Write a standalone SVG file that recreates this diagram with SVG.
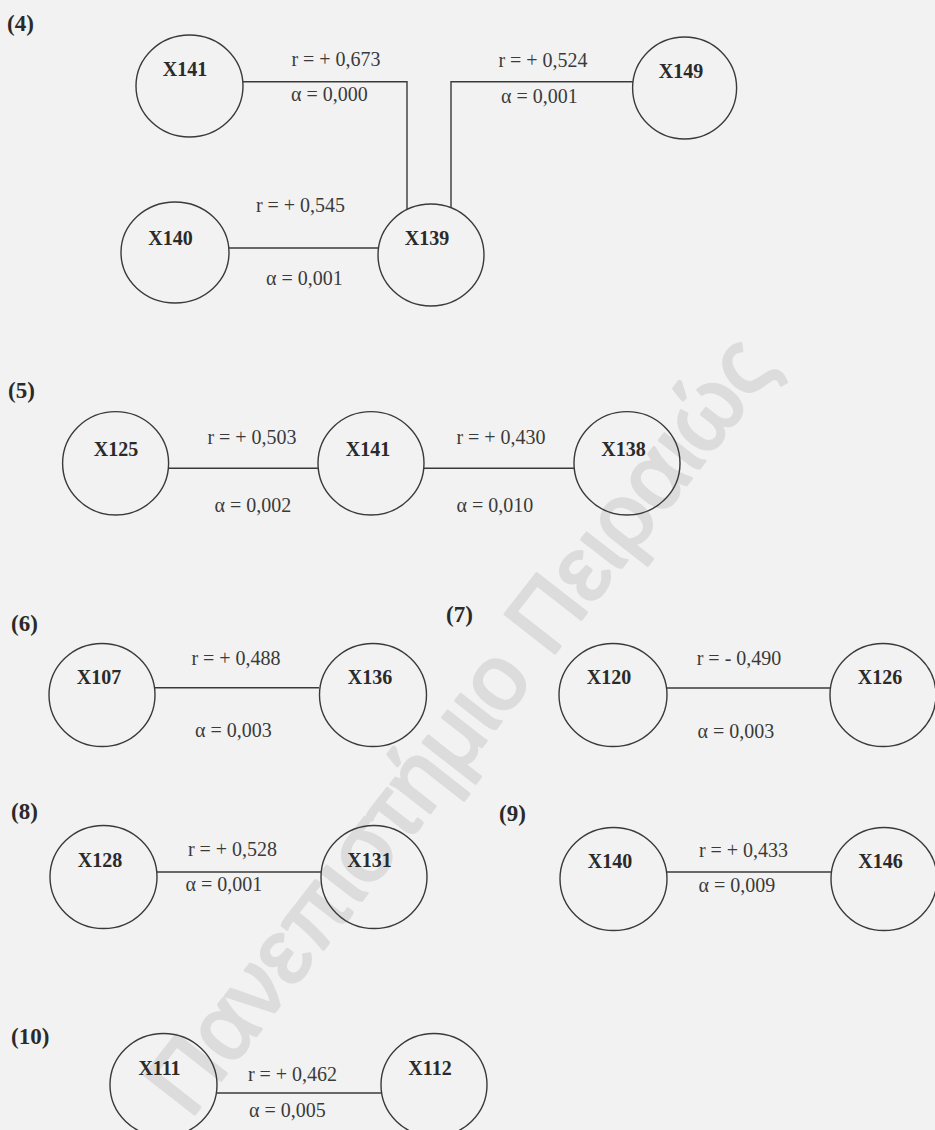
<svg xmlns="http://www.w3.org/2000/svg" width="935" height="1130" viewBox="0 0 935 1130">
<style>
.bg{fill:#f2f2f2}
.wm{fill:#dcdcdc;stroke:#dcdcdc;stroke-width:3;stroke-linejoin:round;font-family:"Liberation Sans","DejaVu Sans",sans-serif;font-size:92px}
.node{fill:none;stroke:#3a3a3a;stroke-width:1.4}
.nl{fill:#2a2a2a;font-family:"Liberation Serif","Times New Roman",serif;font-weight:bold;font-size:20px;text-anchor:middle}
.el{fill:#3a3a3a;font-family:"Liberation Serif","Times New Roman",serif;font-size:20px;text-anchor:middle}
.gl{fill:#2a2a2a;font-family:"Liberation Serif","Times New Roman",serif;font-weight:bold;font-size:23px}
.edge{fill:none;stroke:#3a3a3a;stroke-width:1.4}
</style>
<rect class="bg" x="0" y="0" width="935" height="1130"/>
<text class="wm" transform="translate(190,1120) rotate(-52)">Πανεπιστήμιο Πειραιώς</text>

<g id="group-labels">
<text class="gl" x="7" y="31">(4)</text>
<text class="gl" x="8" y="398">(5)</text>
<text class="gl" x="11" y="631">(6)</text>
<text class="gl" x="446" y="622">(7)</text>
<text class="gl" x="11" y="819">(8)</text>
<text class="gl" x="499" y="821">(9)</text>
<text class="gl" x="11" y="1044">(10)</text>
</g>

<g id="connectors">
<path class="edge" d="M243,81.7 H407 V210"/>
<path class="edge" d="M451,208 V81.7 H633"/>
<path class="edge" d="M229,248 H378"/>
<path class="edge" d="M168.6,468.3 H318"/>
<path class="edge" d="M424,468.3 H574"/>
<path class="edge" d="M155,687.7 H319"/>
<path class="edge" d="M667,688 H830"/>
<path class="edge" d="M157,872 H321"/>
<path class="edge" d="M667,872 H831"/>
<path class="edge" d="M217,1093 H381"/>
</g>

<g id="edge-labels">
<text class="el" x="336" y="66">r = + 0,673</text>
<text class="el" x="329.5" y="101">α = 0,000</text>
<text class="el" x="543" y="67">r = + 0,524</text>
<text class="el" x="539.5" y="103">α = 0,001</text>
<text class="el" x="300.5" y="212">r = + 0,545</text>
<text class="el" x="304.5" y="285">α = 0,001</text>
<text class="el" x="252" y="444">r = + 0,503</text>
<text class="el" x="253" y="512">α = 0,002</text>
<text class="el" x="501" y="444">r = + 0,430</text>
<text class="el" x="495" y="512">α = 0,010</text>
<text class="el" x="236" y="665">r = + 0,488</text>
<text class="el" x="233.5" y="737">α = 0,003</text>
<text class="el" x="739" y="665">r = - 0,490</text>
<text class="el" x="736" y="738">α = 0,003</text>
<text class="el" x="232.5" y="856">r = + 0,528</text>
<text class="el" x="224" y="891">α = 0,001</text>
<text class="el" x="743.5" y="857">r = + 0,433</text>
<text class="el" x="737" y="892">α = 0,009</text>
<text class="el" x="292.5" y="1081">r = + 0,462</text>
<text class="el" x="287.5" y="1117">α = 0,005</text>
</g>

<g id="n4-X141"><ellipse class="node" cx="189.5" cy="86" rx="53.5" ry="51"/><text class="nl" x="185" y="76">X141</text></g>
<g id="n4-X140"><ellipse class="node" cx="175" cy="252.5" rx="54" ry="50.5"/><text class="nl" x="170.5" y="245">X140</text></g>
<g id="n4-X139"><ellipse class="node" cx="431" cy="255" rx="53" ry="51"/><text class="nl" x="427" y="245">X139</text></g>
<g id="n4-X149"><ellipse class="node" cx="684.6" cy="88" rx="52" ry="51"/><text class="nl" x="681" y="78">X149</text></g>

<g id="n5-X125"><ellipse class="node" cx="115.6" cy="463.3" rx="53" ry="51.7"/><text class="nl" x="116" y="456">X125</text></g>
<g id="n5-X141"><ellipse class="node" cx="371" cy="463.3" rx="53" ry="51.7"/><text class="nl" x="368" y="456">X141</text></g>
<g id="n5-X138"><ellipse class="node" cx="627" cy="463.3" rx="53" ry="51.7"/><text class="nl" x="623.5" y="456">X138</text></g>

<g id="n6-X107"><ellipse class="node" cx="102" cy="695" rx="53" ry="51.5"/><text class="nl" x="99" y="684">X107</text></g>
<g id="n6-X136"><ellipse class="node" cx="373" cy="695" rx="53.5" ry="51.5"/><text class="nl" x="370" y="684">X136</text></g>

<g id="n7-X120"><ellipse class="node" cx="613" cy="695" rx="54" ry="51.5"/><text class="nl" x="609" y="684">X120</text></g>
<g id="n7-X126"><ellipse class="node" cx="883" cy="695" rx="53" ry="51.5"/><text class="nl" x="880" y="684">X126</text></g>

<g id="n8-X128"><ellipse class="node" cx="103.5" cy="877" rx="53.5" ry="51.5"/><text class="nl" x="100" y="867">X128</text></g>
<g id="n8-X131"><ellipse class="node" cx="374" cy="877" rx="53" ry="51.5"/><text class="nl" x="369.5" y="867">X131</text></g>

<g id="n9-X140"><ellipse class="node" cx="613.5" cy="879" rx="53.5" ry="51.5"/><text class="nl" x="610" y="868">X140</text></g>
<g id="n9-X146"><ellipse class="node" cx="884" cy="879" rx="53" ry="51.5"/><text class="nl" x="880.5" y="868">X146</text></g>

<g id="n10-X111"><ellipse class="node" cx="163.5" cy="1085" rx="53.5" ry="51.5"/><text class="nl" x="159.5" y="1075">X111</text></g>
<g id="n10-X112"><ellipse class="node" cx="434" cy="1085" rx="53" ry="51.5"/><text class="nl" x="430" y="1075">X112</text></g>
</svg>
